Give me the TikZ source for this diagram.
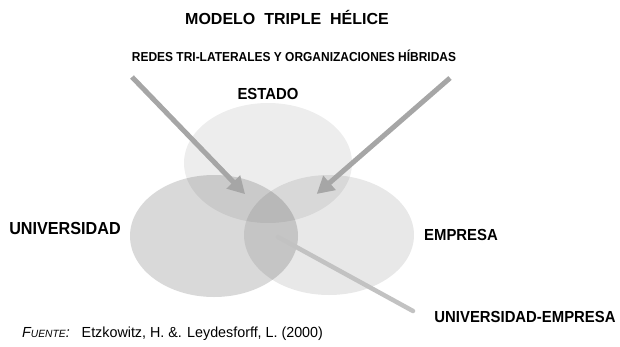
\documentclass[tikz,border=0pt]{standalone}
\usepackage{fontspec}
\setmainfont{Liberation Sans}
\newfontfamily\labelfont[FakeStretch=0.93]{Liberation Sans}
\newfontfamily\narrowfont[FakeStretch=0.92]{Liberation Sans}
\newfontfamily\sourcefont[FakeStretch=0.98]{Liberation Sans}
\usetikzlibrary{arrows.meta, shapes.geometric, positioning}
\definecolor{arrowgray}{HTML}{A6A6A6}
\definecolor{linkgray}{HTML}{C2C2C2}

\begin{document}
\begin{tikzpicture}[
    x=1pt, y=-1pt,
    % Styles
    helix/.style={ ellipse, inner sep=0pt, minimum width=168pt, minimum height=120pt, fill=black, fill opacity=#1 },
    sector/.style={ font=\labelfont\bfseries\fontsize{16}{18}\selectfont, inner sep=0pt },
    link/.style={ line width=5pt, draw=arrowgray, -{Triangle[length=17pt,width=18pt]}, shorten >=-3pt },
    pairline/.style={ line width=4.5pt, draw=linkgray, line cap=round },
  ]
  \useasboundingbox (0,0) rectangle (620,346);

  % 1) Titles
  \node[font=\bfseries\fontsize{16}{18}\selectfont, inner sep=0pt] (title) at (287,17) {MODELO\ \ TRIPLE\ \ H\'ELICE};
  \node[font=\narrowfont\bfseries\fontsize{13}{15}\selectfont, inner sep=0pt] (redes) at (294,56)
  {REDES TRI-LATERALES Y ORGANIZACIONES H\'IBRIDAS};

  % 2) The three helices
  \node[helix=0.07] (estado) at (268,163) {};
  \node[helix=0.15, minimum height=122pt] (univ) at (214,236) {};
  \node[helix=0.09, minimum width=170pt] (empresa) at (329,235) {};

  % 3) Sector labels
  \node[sector] (lestado) at (268,94) {ESTADO};
  \node[sector, font=\labelfont\bfseries\fontsize{17.4}{19}\selectfont] (luniv) at (65,229) {UNIVERSIDAD};
  \node[sector] (lempresa) at (461,235) {EMPRESA};
  \node[sector] (lpair) at (525,317) {UNIVERSIDAD-EMPRESA};

  % 4) Arrows from the hybrid networks
  \coordinate (startL) at (132,77);
  \coordinate (tipL) at (243,192);
  \coordinate (startR) at (450,78);
  \coordinate (tipR) at (319,192);
  \draw[link] (startL) -- (tipL);
  \draw[link] (startR) -- (tipR);

  % 5) University-industry overlap
  \coordinate (pairA) at (278,237);
  \coordinate (pairB) at (413,311);
  \draw[pairline] (pairA) -- (pairB);

  % 6) Source
  \node[anchor=west, inner sep=0pt, font=\sourcefont\fontsize{14.6}{16}\selectfont] (source) at (22,334)
  {\textit{F{\fontsize{10.5}{12}\selectfont UENTE}:}\ \ \ Etzkowitz, H. \&. Leydesforff, L. (2000)};
\end{tikzpicture}
\end{document}
